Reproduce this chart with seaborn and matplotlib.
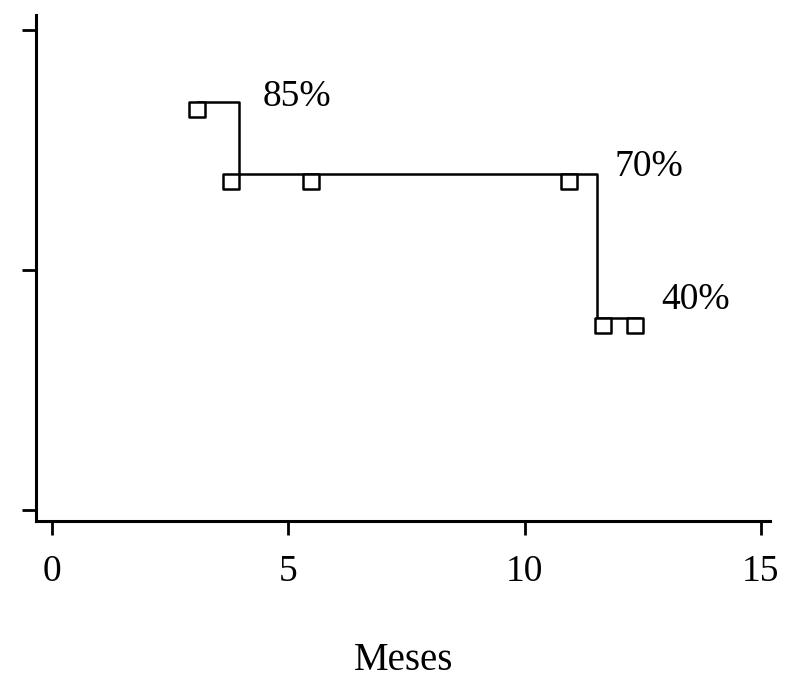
import numpy as np
import matplotlib
matplotlib.use("Agg")
import matplotlib.pyplot as plt
from matplotlib.path import Path
import seaborn as sns
import pandas as pd

# Kaplan-Meier step curve
step_times = [3.07, 3.96, 11.53, 12.45]
step_surv = [0.85, 0.70, 0.40, 0.40]

# censored observations (squares)
cens_times = [3.07, 3.79, 5.49, 10.93, 11.67, 12.33]
cens_surv = [0.85, 0.70, 0.70, 0.70, 0.40, 0.40]

# labels
label_text = ["85%", "70%", "40%"]
label_x = [4.45, 11.9, 12.9]
label_y = [0.86, 0.715, 0.4375]

xticks = [0, 5, 10, 15]
yticks = [0.0, 0.5, 1.0]

sns.set_style("ticks")
plt.rcParams['font.family'] = ['Liberation Serif', 'DejaVu Serif']
plt.rcParams['text.color'] = 'black'
plt.rcParams['xtick.color'] = 'black'
plt.rcParams['ytick.color'] = 'black'
plt.rcParams['axes.labelcolor'] = 'black'
plt.rcParams['axes.edgecolor'] = 'black'

fig = plt.figure(figsize=(7.95, 6.91), dpi=100)
ax = fig.add_axes([0.045, 0.246, 0.924, 0.732])

df_step = pd.DataFrame({"t": step_times, "s": step_surv})
sns.lineplot(data=df_step, x="t", y="s", ax=ax, color="black", linewidth=1.8,
             drawstyle="steps-post", estimator=None, sort=False)

sq = Path([(-0.5, 0), (0.5, 0), (0.5, -1), (-0.5, -1), (-0.5, 0)],
          [Path.MOVETO, Path.LINETO, Path.LINETO, Path.LINETO, Path.CLOSEPOLY])
df_c = pd.DataFrame({"t": cens_times, "s": cens_surv})
sns.scatterplot(data=df_c, x="t", y="s", ax=ax, marker=sq, s=480,
                facecolor="white", edgecolor="black", linewidth=1.8, zorder=3)

for txt, x, y in zip(label_text, label_x, label_y):
    ax.text(x, y, txt, fontsize=27, va="center", ha="left", color="black")

ax.set_xlim(-0.34, 15.2)
ax.set_ylim(-0.023, 1.03)
ax.set_xticks(xticks)
ax.set_xticklabels([str(v) for v in xticks], fontsize=27)
ax.set_yticks(yticks)
ax.set_yticklabels([])
ax.set_xlabel("Meses", fontsize=28, labelpad=38)
ax.set_ylabel("")
for s in ["top", "right"]:
    ax.spines[s].set_visible(False)
for s in ["left", "bottom"]:
    ax.spines[s].set_linewidth(2.2)
ax.tick_params(axis="both", direction="out", length=10, width=2.0, color="black")
ax.tick_params(axis="x", pad=14)

fig.savefig("out.png", dpi=100)
